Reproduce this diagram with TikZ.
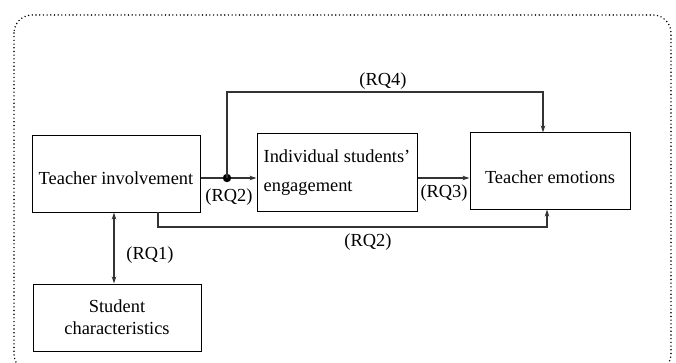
\documentclass[tikz,border=0pt]{standalone}
\usepackage{fontspec}
\setmainfont{Liberation Serif}
\usetikzlibrary{arrows.meta}
\begin{document}
\begin{tikzpicture}[x=1pt,y=-1pt,
  box/.style={draw=black,line width=1pt,rectangle,inner sep=2pt,font=\fontsize{18.4}{22}\selectfont},
  lbl/.style={inner sep=0pt,font=\fontsize{18.4}{22}\selectfont},
  conn/.style={draw=black!80,line width=1.2pt,-{Stealth[length=7pt,width=4.5pt]}}]
\useasboundingbox (0,0) rectangle (676,363);
\begin{scope}
\clip (0,0) rectangle (676,363);
\draw[line width=1.6pt,dash pattern=on 0pt off 3.7pt,line cap=round,rounded corners=18pt] (14,15) rectangle (671,372);
\end{scope}
\node[box,minimum width=168pt,minimum height=76pt] (ti) at (116,174) {\raisebox{-4pt}[\height][\depth]{Teacher involvement}};
\node[box,minimum width=160pt,minimum height=77pt,align=left,font=\fontsize{18.4}{29}\selectfont] (eng) at (337,172.5) {Individual students'\\engagement};
\node[box,minimum width=160pt,minimum height=76pt] (te) at (550,171) {\raisebox{-6pt}[\height][\depth]{Teacher emotions}};
\node[box,minimum width=168pt,minimum height=67pt,align=center] (sc) at (117,317.5) {Student\\characteristics};
\coordinate (dot) at (227,178);
\coordinate (top1) at (227,92);
\coordinate (top2) at (543,92);
\coordinate (b0) at (158,212);
\coordinate (b1) at (158,227);
\coordinate (b2) at (547,227);
\draw[conn] (ti.east |- dot) -- (eng.west |- dot);
\fill[black] (dot) circle (4.2pt);
\draw[conn] (dot) -- (top1) -- (top2) -- (te.north -| top2);
\draw[conn] (eng.east |- dot) -- (te.west |- dot);
\draw[conn] (b0) -- (b1) -- (b2) -- (te.south -| b2);
\draw[draw=black!80,line width=1.2pt,{Stealth[length=7pt,width=4.5pt]}-{Stealth[length=7pt,width=4.5pt]}] (ti.south -| 114,0) -- (sc.north -| 114,0);
\node[lbl] (l4) at (383,81) {(RQ4)};
\node[lbl] (l2a) at (229,197) {(RQ2)};
\node[lbl] (l3) at (444,193) {(RQ3)};
\node[lbl] (l2b) at (368,242) {(RQ2)};
\node[lbl] (l1) at (150,255) {(RQ1)};
\end{tikzpicture}
\end{document}
